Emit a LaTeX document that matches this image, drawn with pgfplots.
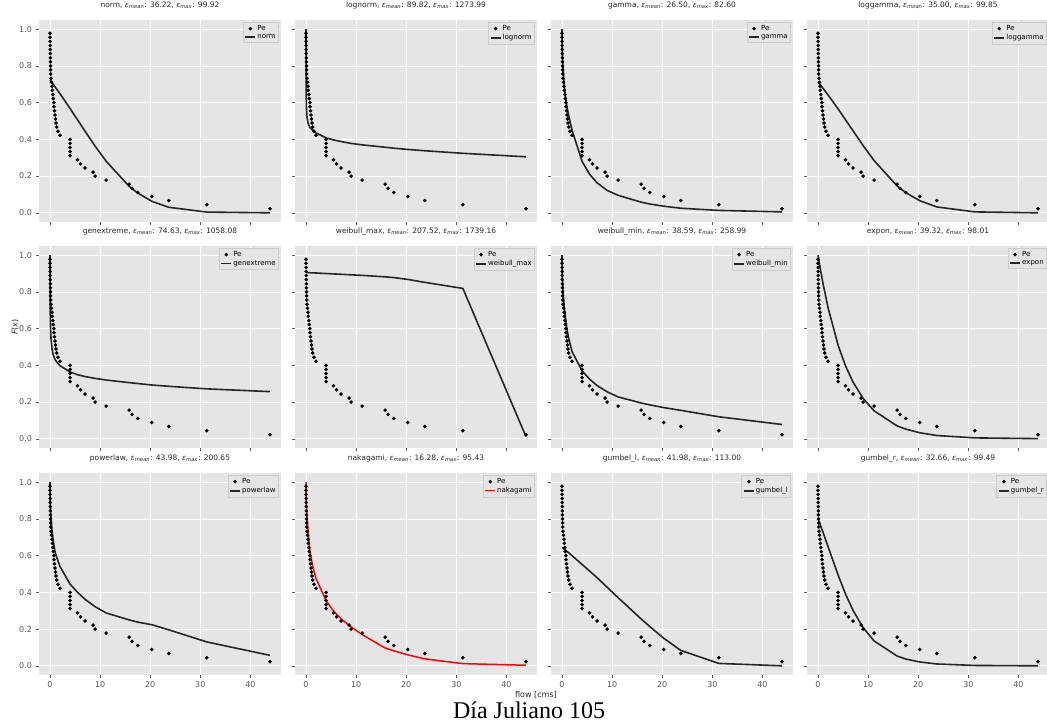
\documentclass[border=0pt]{standalone}
\usepackage{fontspec}
\setmainfont{DejaVu Sans}
\newfontfamily\capfont{Liberation Serif}
\usepackage{pgfplots}
\usepackage{pgfplotstable}
\pgfplotsset{compat=1.18}
\definecolor{ggbg}{HTML}{E5E5E5}
\definecolor{ggtick}{HTML}{555555}
\definecolor{ggedge}{HTML}{CCCCCC}
\newcommand{\eps}[1]{{\itshape ε}\textsubscript{\itshape #1}}

% observed exceedance points (flow, F)
\pgfplotstableread{
x F
0.00 0.978
0.01 0.956
0.02 0.933
0.03 0.911
0.04 0.889
0.05 0.867
0.06 0.844
0.08 0.822
0.10 0.800
0.12 0.778
0.15 0.756
0.20 0.733
0.30 0.711
0.40 0.689
0.45 0.667
0.55 0.644
0.65 0.622
0.75 0.600
0.80 0.578
0.90 0.556
1.00 0.533
1.10 0.511
1.20 0.489
1.35 0.467
1.60 0.444
2.00 0.422
4.00 0.400
4.02 0.378
3.98 0.356
4.00 0.333
4.01 0.311
5.50 0.289
6.10 0.267
7.00 0.244
8.60 0.222
9.00 0.200
11.20 0.178
15.80 0.156
16.40 0.133
17.50 0.111
20.30 0.089
23.70 0.067
31.30 0.044
43.90 0.022
}\pe

\pgfplotsset{
  panel/.style={
    scale only axis, width=242pt, height=202pt, anchor=south west,
    xmin=-2.2, xmax=46.1, ymin=-0.05, ymax=1.05,
    xtick={0,10,20,30,40}, ytick={0,0.2,0.4,0.6,0.8,1},
    axis background/.style={fill=ggbg},
    axis line style={draw=none},
    grid=major, grid style={white, line width=0.8pt},
    tick align=outside, tick pos=left, major tick length=3.5pt,
    tick style={ggtick, line width=0.6pt},
    tick label style={font=\fontsize{8}{9}\selectfont, text=ggtick},
    /pgf/number format/assume math mode=true,
    yticklabel style={/pgf/number format/.cd, fixed, fixed zerofill, precision=1},
    title style={font=\fontsize{7.5}{9}\selectfont, at={(0.5,1)}, anchor=base,
                 yshift=6pt, inner sep=0pt, text=black!85},
    legend style={font=\fontsize{7}{8}\selectfont, draw=ggedge, fill=ggbg,
                  at={(0.99,0.988)}, anchor=north east, inner sep=1.5pt,
                  nodes={inner sep=1.2pt}},
    legend cell align=left,
    legend image code/.code={\draw[mark repeat=2,mark phase=2,##1]
        plot coordinates {(0pt,0pt) (5pt,0pt) (10pt,0pt)};},
    clip=false,
  },
  noy/.style={yticklabel=\relax},
  nox/.style={xticklabel=\relax},
  obs/.style={only marks, mark=*, mark size=1.6pt, black},
  fit/.style={black!85, line width=1.6pt},
}

\begin{document}
\begin{tikzpicture}
\useasboundingbox (0pt,0pt) rectangle (1047pt,725pt);

% ---- row 1
\begin{axis}[panel, nox, at={(39pt,503pt)},
  title={norm, \eps{mean}: 36.22, \eps{max}: 99.92}]
\addplot[obs] table {\pe};
\addplot[fit] coordinates {(0,0.722)(0.5,0.705)(1,0.686)(2,0.648)(4,0.568)(5.5,0.506)
  (7,0.444)(9,0.363)(11.2,0.281)(15.8,0.144)(17.5,0.108)(20.3,0.063)(23.7,0.030)(31.3,0.004)(43.9,0.000)};
\legend{Pe,norm}
\end{axis}

\begin{axis}[panel, nox, noy, at={(295pt,503pt)},
  title={lognorm, \eps{mean}: 89.82, \eps{max}: 1273.99}]
\addplot[obs] table {\pe};
\addplot[fit] coordinates {(0,1.0)(0.01,0.80)(0.02,0.72)(0.05,0.62)(0.1,0.56)(0.2,0.52)(0.4,0.49)
  (0.6,0.475)(0.8,0.465)(1,0.458)(1.35,0.45)(2,0.435)(4,0.408)(5.5,0.397)(7,0.388)(9,0.378)
  (11.2,0.370)(15.8,0.357)(17.5,0.352)(20.3,0.345)(23.7,0.338)(31.3,0.324)(43.9,0.305)};
\legend{Pe,lognorm}
\end{axis}

\begin{axis}[panel, nox, noy, at={(551pt,503pt)},
  title={gamma, \eps{mean}: 26.50, \eps{max}: 82.60}]
\addplot[obs] table {\pe};
\addplot[fit] coordinates {(0,1)(0.02,0.93)(0.05,0.89)(0.1,0.85)(0.2,0.79)(0.4,0.71)(0.6,0.655)
  (0.8,0.61)(1,0.575)(1.35,0.525)(2,0.45)(4,0.28)(5.5,0.21)(7,0.163)(9,0.122)(11.2,0.095)
  (15.8,0.058)(17.5,0.048)(20.3,0.036)(23.7,0.025)(31.3,0.013)(43.9,0.005)};
\legend{Pe,gamma}
\end{axis}

\begin{axis}[panel, nox, noy, at={(807pt,503pt)},
  title={loggamma, \eps{mean}: 35.00, \eps{max}: 99.85}]
\addplot[obs] table {\pe};
\addplot[fit] coordinates {(0,0.712)(0.5,0.696)(1,0.678)(2,0.642)(4,0.566)(5.5,0.506)(7,0.446)
  (9,0.366)(11.2,0.284)(15.8,0.146)(17.5,0.110)(20.3,0.066)(23.7,0.032)(31.3,0.005)(43.9,0.000)};
\legend{Pe,loggamma}
\end{axis}

% ---- row 2
\begin{axis}[panel, nox, at={(39pt,277pt)},
  title={genextreme, \eps{mean}: 74.63, \eps{max}: 1058.08}]
\addplot[obs] table {\pe};
\addplot[fit] coordinates {(0,1)(0.01,0.85)(0.02,0.78)(0.05,0.68)(0.1,0.61)(0.2,0.545)(0.4,0.49)
  (0.6,0.462)(0.8,0.445)(1,0.432)(1.35,0.418)(2,0.398)(4,0.364)(5.5,0.349)(7,0.339)(9,0.329)
  (11.2,0.320)(15.8,0.306)(17.5,0.301)(20.3,0.293)(23.7,0.286)(31.3,0.272)(43.9,0.257)};
\legend{Pe,genextreme}
\end{axis}

\begin{axis}[panel, nox, noy, at={(295pt,277pt)},
  title={weibull\_max, \eps{mean}: 207.52, \eps{max}: 1739.16}]
\addplot[obs] table {\pe};
\addplot[fit] coordinates {(0,0.905)(0.5,0.905)(1,0.904)(2,0.903)(4,0.900)(5.5,0.898)(7,0.896)
  (9,0.893)(11.2,0.890)(15.8,0.882)(17.5,0.878)(20.3,0.868)(23.7,0.852)(31.3,0.819)(43.9,0.012)};
\legend{Pe,weibull\_max}
\end{axis}

\begin{axis}[panel, nox, noy, at={(551pt,277pt)},
  title={weibull\_min, \eps{mean}: 38.59, \eps{max}: 258.99}]
\addplot[obs] table {\pe};
\addplot[fit] coordinates {(0,1)(0.02,0.93)(0.05,0.89)(0.1,0.86)(0.2,0.80)(0.4,0.73)(0.6,0.68)
  (0.8,0.635)(1,0.595)(1.35,0.545)(2,0.475)(4,0.37)(5.5,0.325)(7,0.29)(9,0.256)(11.2,0.228)
  (15.8,0.195)(17.5,0.185)(20.3,0.17)(23.7,0.155)(31.3,0.12)(43.9,0.078)};
\legend{Pe,weibull\_min}
\end{axis}

\begin{axis}[panel, nox, noy, at={(807pt,277pt)},
  title={expon, \eps{mean}: 39.32, \eps{max}: 98.01}]
\addplot[obs] table {\pe};
\addplot[fit] coordinates {(0,1)(0.5,0.919)(1,0.845)(2,0.714)(4,0.51)(5.5,0.396)(7,0.308)
  (9,0.22)(11.2,0.152)(15.8,0.07)(17.5,0.053)(20.3,0.033)(23.7,0.018)(31.3,0.005)(43.9,0.001)};
\legend{Pe,expon}
\end{axis}

% ---- row 3
\begin{axis}[panel, at={(39pt,50pt)},
  title={powerlaw, \eps{mean}: 43.98, \eps{max}: 200.65}]
\addplot[obs] table {\pe};
\addplot[fit] coordinates {(0,1)(0.02,0.93)(0.05,0.89)(0.1,0.85)(0.2,0.80)(0.4,0.735)(0.6,0.69)
  (0.8,0.655)(1,0.62)(1.35,0.59)(2,0.54)(4,0.445)(5.5,0.40)(7,0.362)(9,0.322)(11.2,0.288)
  (15.8,0.25)(17.5,0.238)(20.3,0.224)(23.7,0.196)(31.3,0.13)(43.9,0.057)};
\legend{Pe,powerlaw}
\end{axis}

\begin{axis}[panel, noy, at={(295pt,50pt)},
  title={nakagami, \eps{mean}: 16.28, \eps{max}: 95.43}]
\addplot[obs] table {\pe};
\addplot[red, line width=1.5pt] coordinates {(0,1)(0.02,0.93)(0.05,0.89)(0.1,0.86)(0.2,0.81)
  (0.4,0.74)(0.6,0.675)(0.8,0.625)(1,0.59)(1.35,0.54)(2,0.475)(4,0.355)(5.5,0.298)(7,0.256)
  (9,0.212)(11.2,0.170)(15.8,0.097)(17.5,0.082)(20.3,0.060)(23.7,0.038)(31.3,0.012)(43.9,0.003)};
\legend{Pe,nakagami}
\end{axis}

\begin{axis}[panel, noy, at={(551pt,50pt)},
  title={gumbel\_l, \eps{mean}: 41.98, \eps{max}: 113.00}]
\addplot[obs] table {\pe};
\addplot[fit] coordinates {(0,0.645)(0.5,0.634)(1,0.623)(2,0.600)(4,0.552)(5.5,0.516)(7,0.480)
  (9,0.428)(11.2,0.371)(15.8,0.255)(17.5,0.214)(20.3,0.150)(23.7,0.084)(31.3,0.013)(43.9,0.0)};
\legend{Pe,gumbel\_l}
\end{axis}

\begin{axis}[panel, noy, at={(807pt,50pt)},
  title={gumbel\_r, \eps{mean}: 32.66, \eps{max}: 99.49}]
\addplot[obs] table {\pe};
\addplot[fit] coordinates {(0,0.80)(0.5,0.764)(1,0.727)(2,0.649)(4,0.495)(5.5,0.39)(7,0.301)
  (9,0.208)(11.2,0.135)(15.8,0.053)(17.5,0.037)(20.3,0.021)(23.7,0.010)(31.3,0.002)(43.9,0.0)};
\legend{Pe,gumbel\_r}
\end{axis}

% shared labels and caption
\node[rotate=90, font=\fontsize{8}{9}\selectfont, text=black!85] at (15pt,398pt)
  {{\itshape F}({\itshape x})};
\node[anchor=base, font=\fontsize{8}{9}\selectfont, text=black!85] at (536pt,27pt) {flow [cms]};
\node[anchor=base, font=\capfont\fontsize{24}{28}\selectfont] at (529pt,6pt) {Día Juliano 105};
\end{tikzpicture}
\end{document}
